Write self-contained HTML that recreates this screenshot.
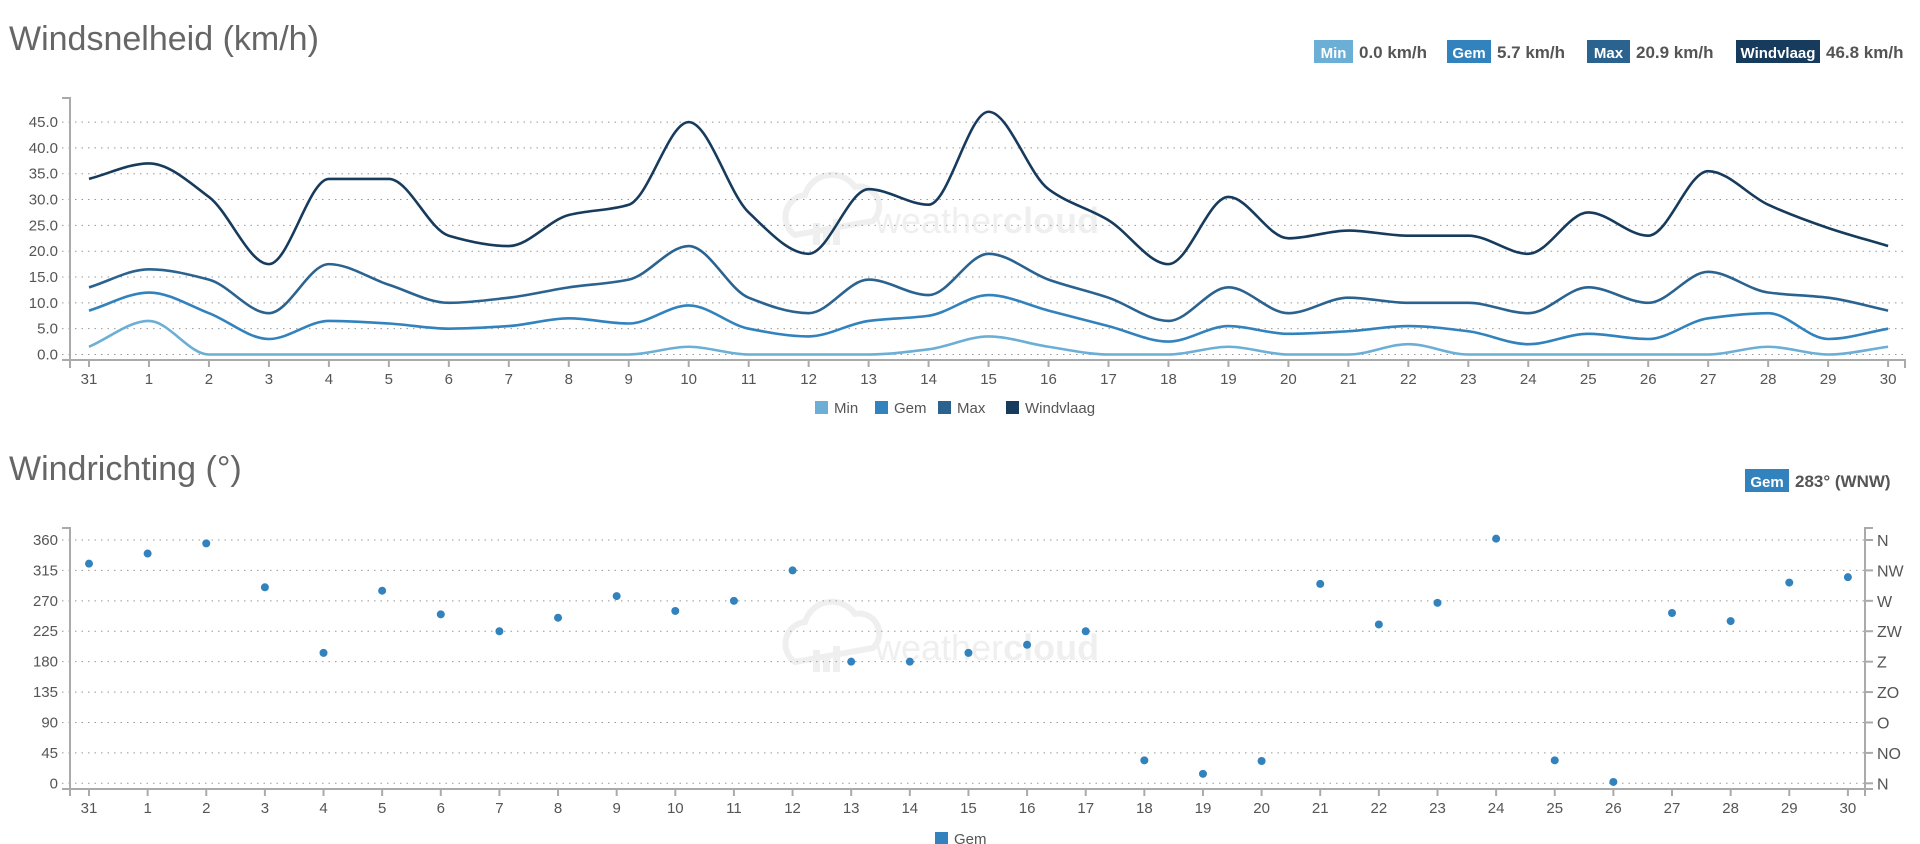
<!DOCTYPE html>
<html><head><meta charset="utf-8"><style>
body{margin:0;background:#fff;width:1920px;height:844px;overflow:hidden;font-family:"Liberation Sans",sans-serif}
svg{position:absolute;left:0;top:0}
</style></head><body>
<svg id="s" width="1920" height="844" xmlns="http://www.w3.org/2000/svg" font-family="Liberation Sans, sans-serif"></svg>
<script>
const s=document.getElementById('s');let h='';
const C={min:'#6baed6',gem:'#3182bd',max:'#2b6390',wv:'#173b5c'};
const days=[31];for(let i=1;i<=30;i++)days.push(i);
h+=`<text x="9" y="50" font-size="34" fill="#666" font-weight="300">Windsnelheid (km/h)</text>`;
h+=`<text x="9" y="480" font-size="34" fill="#666" font-weight="300">Windrichting (°)</text>`;
function badge(x,y,w,col,lab,val){return `<rect x="${x}" y="${y-12}" width="${w}" height="23" fill="${col}"/><text x="${x+w/2}" y="${y+6}" text-anchor="middle" font-size="15" font-weight="bold" fill="#fff">${lab}</text><text x="${x+w+6}" y="${y+6}" font-size="17" font-weight="bold" fill="#555">${val}</text>`}
h+=badge(1314,52,39,C.min,'Min','0.0 km/h');
h+=badge(1447,52,44,C.gem,'Gem','5.7 km/h');
h+=badge(1587,52,43,C.max,'Max','20.9 km/h');
h+=badge(1736,52,84,C.wv,'Windvlaag','46.8 km/h');
h+=badge(1745,481,44,C.gem,'Gem','283° (WNW)');
const X1=i=>89+i*59.97, Y1=v=>354.5-v*5.165;
function wm(cx,cy){return `<g opacity="0.45"><path d="M${cx-160} ${cy+10} a22 22 0 0 1 10-40 a28 28 0 0 1 50-8 a20 20 0 0 1 18 34 z" fill="none" stroke="#ddd" stroke-width="6"/><rect x="${cx-142}" y="${cy-2}" width="7" height="22" fill="#ddd"/><rect x="${cx-132}" y="${cy+6}" width="7" height="14" fill="#ddd"/><rect x="${cx-122}" y="${cy-6}" width="7" height="26" fill="#ddd"/><text x="${cx-80}" y="${cy+8}" font-size="36" fill="#ddd">weather<tspan font-weight="bold">cloud</tspan></text></g>`}
h+=wm(955,225);
for(let v=0;v<=45;v+=5){const y=Y1(v);h+=`<line x1="62" x2="1905" y1="${y}" y2="${y}" stroke="#999" stroke-dasharray="1.5,5"/><text x="58" y="${y+5}" text-anchor="end" font-size="15" fill="#555">${v.toFixed(1)}</text>`}
h+=`<path d="M62 98H70V360M62 360H1905V368" fill="none" stroke="#aaa" stroke-width="2"/>`;
days.forEach((d,i)=>{const x=X1(i);h+=`<line x1="${x}" x2="${x}" y1="360" y2="367" stroke="#aaa" stroke-width="2"/><text x="${x}" y="384" text-anchor="middle" font-size="15" fill="#555">${d}</text>`});
h+=`<line x1="70" x2="70" y1="360" y2="368" stroke="#aaa" stroke-width="2"/>`;
function path(vals,X,Y){const n=vals.length,p=vals.map((v,i)=>[X(i),Y(v)]);
const dx=p[1][0]-p[0][0];const del=[];for(let i=0;i<n-1;i++)del.push((p[i+1][1]-p[i][1])/dx);
const m=[];for(let i=0;i<n;i++){if(i==0)m.push(del[0]);else if(i==n-1)m.push(del[n-2]);else{const a=del[i-1],b=del[i];m.push(a*b<=0?0:(3*2*a*b)/((a+b)*3*1.0+ (a+b)*0)*0+ (2*a*b/(a+b)))}}
let d=`M${p[0][0]} ${p[0][1]}`;
for(let i=0;i<n-1;i++){const t=dx/3;d+=`C${p[i][0]+t} ${p[i][1]+m[i]*t} ${p[i+1][0]-t} ${p[i+1][1]-m[i+1]*t} ${p[i+1][0]} ${p[i+1][1]}`}return d}
const wv=[34,37,30.5,17.5,34,34,23,21,27,29,45,27.5,19.5,32,29,47,32,26,17.5,30.5,22.5,24,23,23,19.5,27.5,23,35.5,29,24.5,21];
const mx=[13,16.5,14.5,8,17.5,13.5,10,11,13,14.5,21,11,8,14.5,11.5,19.5,14.5,11,6.5,13,8,11,10,10,8,13,10,16,12,11,8.5];
const gm=[8.5,12,8,3,6.5,6,5,5.5,7,6,9.5,5,3.5,6.5,7.5,11.5,8.5,5.5,2.5,5.5,4,4.5,5.5,4.5,2,4,3,7,8,3,5];
const mn=[1.5,6.5,0,0,0,0,0,0,0,0,1.5,0,0,0,1,3.5,1.5,0,0,1.5,0,0,2,0,0,0,0,0,1.5,0,1.5];
[[mn,C.min],[gm,C.gem],[mx,C.max],[wv,C.wv]].forEach(([v,c])=>h+=`<path d="${path(v,X1,Y1)}" fill="none" stroke="${c}" stroke-width="2.6"/>`);
function leg(x,y,c,t){return `<rect x="${x}" y="${y-6}" width="13" height="13" fill="${c}"/><text x="${x+19}" y="${y+6}" font-size="15" fill="#555">${t}</text>`}
h+=leg(815,407,C.min,'Min')+leg(875,407,C.gem,'Gem')+leg(938,407,C.max,'Max')+leg(1006,407,C.wv,'Windvlaag');
const X2=i=>89+i*58.63, Y2=v=>783.3-v*(243.3/360);
h+=wm(955,652);
const dir=['N','NO','O','ZO','Z','ZW','W','NW','N'];
for(let k=0;k<=8;k++){const v=k*45,y=Y2(v);h+=`<line x1="62" x2="1865" y1="${y}" y2="${y}" stroke="#999" stroke-dasharray="1.5,5"/><text x="58" y="${y+5}" text-anchor="end" font-size="15" fill="#555">${v}</text><line x1="1865" x2="1873" y1="${y}" y2="${y}" stroke="#aaa" stroke-width="2"/><text x="1877" y="${y+6}" font-size="16" fill="#555">${dir[k]}</text>`}
h+=`<path d="M62 528H70V789M62 789H1873M1873 528H1865V796" fill="none" stroke="#aaa" stroke-width="2"/>`;
days.forEach((d,i)=>{const x=X2(i);h+=`<line x1="${x}" x2="${x}" y1="789" y2="796" stroke="#aaa" stroke-width="2"/><text x="${x}" y="813" text-anchor="middle" font-size="15" fill="#555">${d}</text>`});
h+=`<line x1="70" x2="70" y1="789" y2="796" stroke="#aaa" stroke-width="2"/>`;
const dv=[325,340,355,290,193,285,250,225,245,277,255,270,315,180,180,193,205,225,34,14,33,295,235,267,362,34,2,252,240,297,305];
dv.forEach((v,i)=>h+=`<circle cx="${X2(i)}" cy="${Y2(v)}" r="4" fill="${C.gem}"/>`);
h+=leg(935,838,C.gem,'Gem');
s.innerHTML=h;
</script>
</body></html>
